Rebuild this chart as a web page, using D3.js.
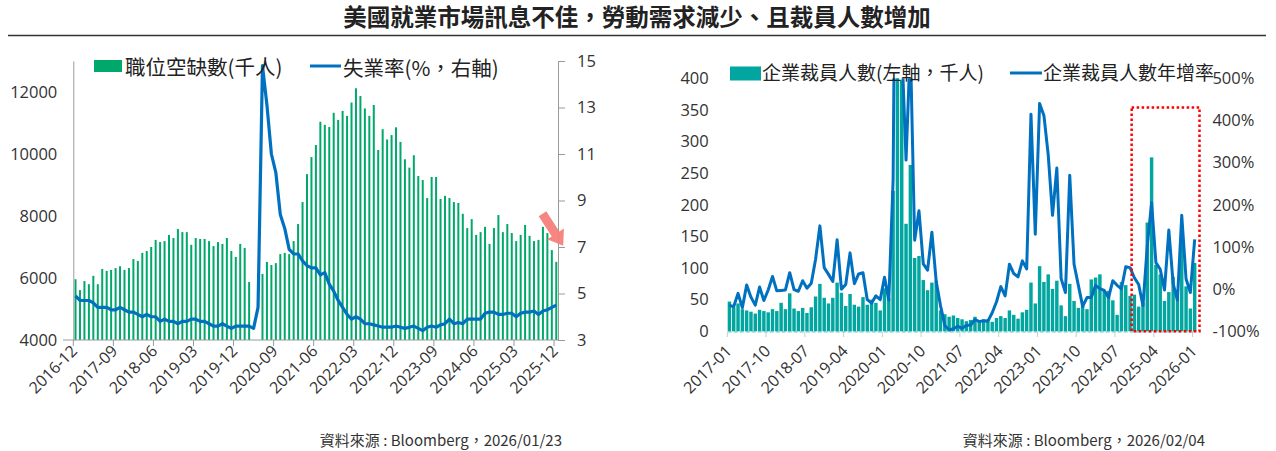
<!DOCTYPE html>
<html lang="zh-TW"><head><meta charset="utf-8">
<script src="https://cdn.jsdelivr.net/npm/d3@7/dist/d3.min.js"></script>
<style>
body{margin:0;background:#fff;}
svg{display:block;}
text{font-family:"Noto Sans CJK TC","Noto Sans TC","Noto Sans",sans-serif;fill:#222;}
.num text, text.num{font-family:"Open Sans","Liberation Sans",sans-serif;}
</style></head><body>
<svg id="c" width="1276" height="451" lang="zh-TW"></svg>
<script>
// ---------- DATA ----------
function months(y, m, n){const a=[];for(let k=0;k<n;k++){const t=(m-1)+k;a.push(`${y+Math.floor(t/12)}-${String(t%12+1).padStart(2,'0')}`);}return a;}
const leftMonths = months(2016, 12, 109);   // 2016-12 .. 2025-12
const rightMonths = months(2017, 1, 109);   // 2017-01 .. 2026-01
const leftTickLabels = ["2016-12","2017-09","2018-06","2019-03","2019-12","2020-09","2021-06","2022-03","2022-12","2023-09","2024-06","2025-03","2025-12"];
const rightTickLabels = ["2017-01","2017-10","2018-07","2019-04","2020-01","2020-10","2021-07","2022-04","2023-01","2023-10","2024-07","2025-04","2026-01"];
const leftAxisTicks = [4000,6000,8000,10000,12000];
const rightAxisTicks = [3,5,7,9,11,13,15];
const layoffAxisTicks = [0,50,100,150,200,250,300,350,400];
const yoyAxisTicks = [-100,0,100,200,300,400,500];

// job openings (thousands)
const jobOpenings = [
 5960,5610,5900,5800,6070,5800,6290,6230,6260,6320,6380,6260,
 6320,6610,6550,6810,6870,7000,7230,7160,7190,7390,7290,7580,
 7480,7480,7070,7290,7260,7260,7190,7030,7160,7100,7290,6870,
 6680,7100,6970,5870,null,null,6130,6520,6420,6480,6770,6810,
 6770,7190,7740,8450,9350,9900,10290,11040,10940,10870,11330,11100,
 11390,11230,11660,12120,11870,11470,11230,11580,10130,10800,10470,10610,
 10860,10390,9830,9560,9960,9290,9160,8580,9260,9260,8550,8650,
 8580,8450,8420,8070,7610,7900,7390,7480,7650,7100,7610,8030,
 7480,7740,7450,7190,7390,7710,7360,7190,7230,7650,7450,6900,
 6520];
// unemployment rate (%)
const unemployment = [
 4.9,4.7,4.7,4.7,4.6,4.4,4.4,4.4,4.3,4.3,4.4,4.3,
 4.2,4.2,4.1,4.0,4.1,4.0,4.0,3.8,3.9,3.8,3.8,3.7,
 3.8,3.8,3.9,3.9,3.8,3.8,3.7,3.6,3.6,3.7,3.6,3.5,
 3.6,3.6,3.6,3.6,3.5,4.4,14.8,13.1,11.0,10.2,8.4,7.8,
 6.9,6.7,6.7,6.4,6.2,6.1,6.1,5.8,5.9,5.4,5.1,4.7,
 4.4,4.1,3.9,4.0,3.9,3.7,3.7,3.65,3.6,3.55,3.55,3.55,
 3.6,3.55,3.5,3.55,3.6,3.5,3.4,3.55,3.6,3.55,3.65,3.7,
 3.9,3.7,3.75,3.7,3.9,3.9,3.9,3.9,4.15,4.2,4.2,4.1,
 4.1,4.15,4.15,4.0,4.15,4.2,4.2,4.25,4.1,4.25,4.3,4.4,
 4.5];
// corporate layoffs (thousands)
const layoffs = [
 47,38,44,35,33,31,28,34,32,30,35,32,
 45,35,60,36,32,37,29,38,55,75,53,44,
 53,77,61,40,59,42,39,54,42,50,45,33,
 68,52,222,671,397,170,263,116,119,81,65,77,
 80,33,27,23,25,21,19,16,18,23,18,19,
 19,15,21,24,21,33,26,20,30,34,77,44,
 103,78,90,67,80,41,24,75,48,37,46,35,
 82,85,90,65,64,49,26,78,73,56,58,39,
 45,172,275,105,90,48,62,86,54,153,71,36,
 108];
// layoffs YoY (%)
const layoffYoY = [
 -39,-41,-10,-44,10,-19,-38,5,-27,-2,30,-4,
 -3,-2,39,-1,-5,20,2,14,71,150,51,35,
 18,117,0,11,86,13,36,39,-25,-33,-16,-25,
 28,-26,260,1580,580,306,580,116,186,60,45,135,
 18,-39,-86,-97,-94,-88,-93,-86,-85,-72,-77,-75,
 -76,-56,-30,6,-16,59,37,29,67,48,415,130,
 440,412,319,175,287,25,-8,270,59,9,-41,-20,
 -20,9,1,-3,-20,20,9,1,53,51,27,11,
 -39,103,205,63,47,-2,140,13,-26,175,24,-8,
 118];

// ---------- DRAW ----------
const svg = d3.select("#c");
const BLUE = "#0070C0", GREEN = "#00A86B", TEAL = "#00A69F", AX = "#9a9a9a";

// title
svg.append("text").attr("x",637).attr("y",26).attr("text-anchor","middle")
  .style("font-size","23.5px").style("font-weight","bold").style("fill","#222")
  .text("美國就業市場訊息不佳，勞動需求減少、且裁員人數增加");
svg.append("line").attr("x1",8).attr("x2",1266).attr("y1",35.5).attr("y2",35.5)
  .attr("stroke","#333").attr("stroke-width",1.5);

const defs = svg.append("defs");

// ===== LEFT CHART =====
const xL = d3.scaleBand().domain(leftMonths).range([73.3,558.5]);
const yLL = d3.scaleLinear().domain([4000,13000]).range([340,61]);
const yLR = d3.scaleLinear().domain([3,15]).range([340,61]);
const gL = svg.append("g");

gL.selectAll("rect.job").data(leftMonths.map((m,i)=>({m,v:jobOpenings[i]})).filter(d=>d.v!=null))
  .enter().append("rect").attr("class","job")
  .attr("x",d=>xL(d.m)+xL.bandwidth()/2-1).attr("width",2)
  .attr("y",d=>yLL(d.v)).attr("height",d=>yLL(4000)-yLL(d.v)).attr("fill",GREEN);

// axes
const axL = gL.append("g").attr("class","num").attr("transform","translate(73.3,0)")
  .call(d3.axisLeft(yLL).tickValues(leftAxisTicks).tickSize(0).tickPadding(16).tickFormat(d3.format("d")));
axL.select(".domain").attr("stroke",AX);
axL.selectAll("text").style("font-size","16.5px").style("fill","#333");
const axR = gL.append("g").attr("class","num").attr("transform","translate(558,0)")
  .call(d3.axisRight(yLR).tickValues(rightAxisTicks).tickSize(7).tickSizeOuter(0).tickPadding(12));
axR.select(".domain").attr("stroke",AX);
axR.selectAll("line").attr("stroke",AX);
axR.selectAll("text").style("font-size","16.5px").style("fill","#333");

// x axis
gL.append("line").attr("x1",63).attr("x2",558).attr("y1",340).attr("y2",340).attr("stroke",AX);
gL.selectAll("line.xt").data(leftTickLabels).enter().append("line").attr("class","xt")
  .attr("x1",d=>xL(d)).attr("x2",d=>xL(d)).attr("y1",340).attr("y2",346).attr("stroke",AX);
gL.selectAll("text.xl").data(leftTickLabels).enter().append("text").attr("class","xl num")
  .attr("text-anchor","end").style("font-size","16px").style("fill","#333")
  .attr("transform",d=>`translate(${xL(d)+5},352) rotate(-45)`).text(d=>d);

// unemployment line
gL.append("path").datum(unemployment)
  .attr("d",d3.line().x((d,i)=>xL(leftMonths[i])+xL.bandwidth()/2).y(d=>yLR(d)))
  .attr("fill","none").attr("stroke",BLUE).attr("stroke-width",3.2).attr("stroke-linejoin","round");

// arrow
gL.append("polygon").attr("points","0,-4.5 24,-4.5 24,-10 38,0 24,10 24,4.5 0,4.5")
  .attr("transform","translate(542.5,213.8) rotate(57)").attr("fill","#F47F7A").attr("opacity",0.95);

// legend
gL.append("rect").attr("x",94).attr("y",60).attr("width",28).attr("height",12).attr("fill",GREEN);
gL.append("text").attr("x",125).attr("y",75).style("font-size","20.5px").text("職位空缺數(千人)");
gL.append("line").attr("x1",310).attr("x2",341).attr("y1",66).attr("y2",66).attr("stroke",BLUE).attr("stroke-width",3);
gL.append("text").attr("x",343).attr("y",76).style("font-size","20.5px").text("失業率(%，右軸)");

// source
svg.append("text").attr("x",562).attr("y",446).attr("text-anchor","end").style("font-size","15px").style("fill","#333")
  .text("資料來源 : Bloomberg，2026/01/23");

// ===== RIGHT CHART =====
const xR = d3.scaleBand().domain(rightMonths).range([727.7,1196.4]).paddingInner(0.2);
const yRL = d3.scaleLinear().domain([0,400]).range([331.3,78.3]);
const yRR = d3.scaleLinear().domain([-100,500]).range([331.3,78.3]);
defs.append("clipPath").attr("id","clipR").append("rect")
  .attr("x",720).attr("y",78.3).attr("width",485).attr("height",260);
const gR = svg.append("g");
const plotR = gR.append("g").attr("clip-path","url(#clipR)");

plotR.selectAll("rect.lay").data(rightMonths.map((m,i)=>({m,v:layoffs[i]})))
  .enter().append("rect").attr("class","lay")
  .attr("x",d=>xR(d.m)).attr("width",xR.bandwidth())
  .attr("y",d=>yRL(d.v)).attr("height",d=>yRL(0)-yRL(d.v)).attr("fill",TEAL);

// baseline dashed
gR.append("line").attr("x1",727.7).attr("x2",1196.4).attr("y1",331.8).attr("y2",331.8)
  .attr("stroke","#6cc9c4").attr("stroke-width",1.2).attr("stroke-dasharray","4,2");
gR.selectAll("line.xt").data(rightTickLabels).enter().append("line").attr("class","xt")
  .attr("x1",d=>xR(d)-xR.step()*xR.paddingInner()/2).attr("x2",d=>xR(d)-xR.step()*xR.paddingInner()/2)
  .attr("y1",332).attr("y2",337).attr("stroke","#ccc");
gR.selectAll("text.xl").data(rightTickLabels).enter().append("text").attr("class","xl num")
  .attr("text-anchor","end").style("font-size","16px").style("fill","#333")
  .attr("transform",d=>`translate(${xR(d)+5},352) rotate(-45)`).text(d=>d);

// axes (labels only)
const raL = gR.append("g").attr("class","num").attr("transform","translate(727.7,0)")
  .call(d3.axisLeft(yRL).tickValues(layoffAxisTicks).tickSize(0).tickPadding(19));
raL.select(".domain").remove();
raL.selectAll("text").style("font-size","16.5px").style("fill","#333");
const raR = gR.append("g").attr("class","num").attr("transform","translate(1196.4,0)")
  .call(d3.axisRight(yRR).tickValues(yoyAxisTicks).tickSize(0).tickPadding(16).tickFormat(d=>d+"%"));
raR.select(".domain").remove();
raR.selectAll("text").style("font-size","16.5px").style("fill","#333");

// YoY line
plotR.append("path").datum(layoffYoY)
  .attr("d",d3.line().x((d,i)=>xR(rightMonths[i])+xR.bandwidth()/2).y(d=>yRR(d)))
  .attr("fill","none").attr("stroke",BLUE).attr("stroke-width",3).attr("stroke-linejoin","round");

// red dotted box
gR.append("rect").attr("x",xR("2024-11")-1).attr("y",yRR(431))
  .attr("width",1199.5-(xR("2024-11")-1)).attr("height",yRR(-100)-yRR(431))
  .attr("fill","none").attr("stroke","#ff0000").attr("stroke-width",2.5).attr("stroke-dasharray","2.5,2.5");

// legend
gR.append("rect").attr("x",730).attr("y",66.5).attr("width",31).attr("height",14).attr("fill",TEAL);
gR.append("text").attr("x",762).attr("y",80).style("font-size","19px").text("企業裁員人數(左軸，千人)");
gR.append("line").attr("x1",1010).attr("x2",1042).attr("y1",73).attr("y2",73).attr("stroke",BLUE).attr("stroke-width",3);
gR.append("text").attr("x",1043).attr("y",80).style("font-size","19px").text("企業裁員人數年增率");

svg.append("text").attr("x",1205).attr("y",446).attr("text-anchor","end").style("font-size","15px").style("fill","#333")
  .text("資料來源 : Bloomberg，2026/02/04");
</script>
</body></html>
